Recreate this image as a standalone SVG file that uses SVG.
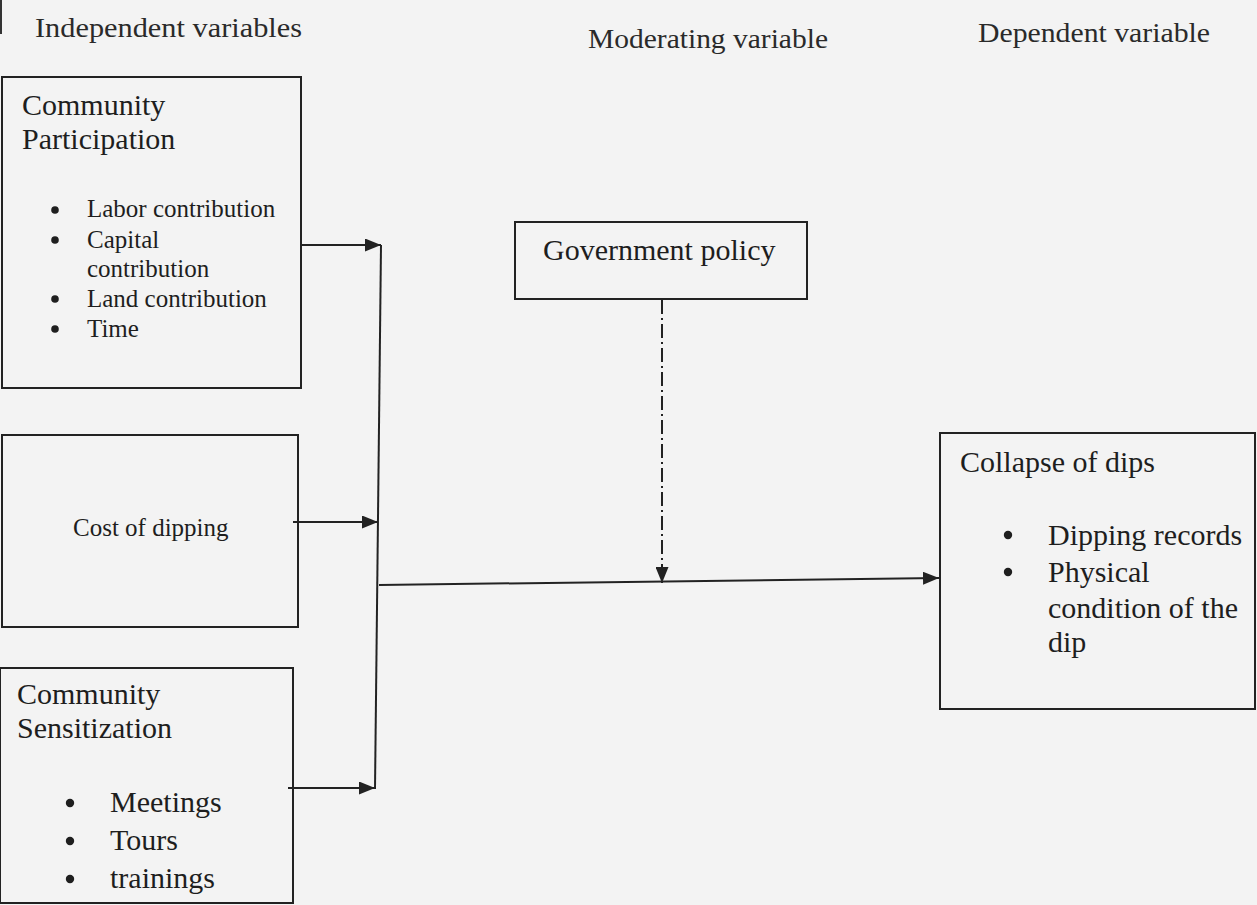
<svg xmlns="http://www.w3.org/2000/svg" width="1257" height="905" viewBox="0 0 1257 905">
<defs>
<style>
.bg{fill:#f3f3f3}
.box{fill:none;stroke:#222;stroke-width:2}
text{font-family:'Liberation Serif','DejaVu Serif',serif}
.t{fill:#1e1e1e}
.h{fill:#2a2a2a;font-size:28px}
.con{stroke:#222;stroke-width:2;fill:none}
.dash{stroke-dasharray:14 4 2 4}
.bul{fill:#1e1e1e}
</style>
<marker id="arr" markerUnits="userSpaceOnUse" markerWidth="17" markerHeight="13" refX="16" refY="6.5" orient="auto">
<path d="M0,0 L16,6.5 L0,13 z" fill="#222"/>
</marker>
</defs>
<rect class="bg" x="0" y="0" width="1257" height="905"/>
<line x1="1" y1="0" x2="1" y2="34" stroke="#333" stroke-width="2"/>

<g id="headings">
<text class="h" x="35" y="37" textLength="267" lengthAdjust="spacingAndGlyphs">Independent variables</text>
<text class="h" x="588" y="48" textLength="240" lengthAdjust="spacingAndGlyphs">Moderating variable</text>
<text class="h" x="978" y="42" textLength="232" lengthAdjust="spacingAndGlyphs">Dependent variable</text>
</g>

<g id="community-participation">
<rect class="box" x="2" y="77" width="299" height="311"/>
<text class="t" x="22" y="115" font-size="30">Community</text>
<text class="t" x="22" y="149" font-size="30">Participation</text>
<circle class="bul" cx="55" cy="210" r="3.8"/>
<text class="t" x="87" y="217" font-size="25">Labor contribution</text>
<circle class="bul" cx="55" cy="240" r="3.8"/>
<text class="t" x="87" y="248" font-size="25">Capital</text>
<text class="t" x="87" y="277" font-size="25">contribution</text>
<circle class="bul" cx="55" cy="299" r="3.8"/>
<text class="t" x="87" y="307" font-size="25">Land contribution</text>
<circle class="bul" cx="55" cy="329" r="3.8"/>
<text class="t" x="87" y="337" font-size="25">Time</text>
</g>

<g id="cost-of-dipping">
<rect class="box" x="2" y="435" width="296" height="192"/>
<text class="t" x="73" y="536" font-size="25">Cost of dipping</text>
</g>

<g id="community-sensitization">
<rect class="box" x="0" y="668" width="293" height="235"/>
<text class="t" x="17" y="704" font-size="30">Community</text>
<text class="t" x="17" y="738" font-size="30">Sensitization</text>
<circle class="bul" cx="70" cy="803" r="4.2"/>
<text class="t" x="110" y="812" font-size="30">Meetings</text>
<circle class="bul" cx="70" cy="841" r="4.2"/>
<text class="t" x="110" y="850" font-size="30">Tours</text>
<circle class="bul" cx="70" cy="879" r="4.2"/>
<text class="t" x="110" y="888" font-size="30">trainings</text>
</g>

<g id="government-policy">
<rect class="box" x="515" y="222" width="292" height="77"/>
<text class="t" x="543" y="260" font-size="30">Government policy</text>
</g>

<g id="collapse-of-dips">
<rect class="box" x="940" y="433" width="315" height="276"/>
<text class="t" x="960" y="472" font-size="30">Collapse of dips</text>
<circle class="bul" cx="1008" cy="535" r="4.2"/>
<text class="t" x="1048" y="545" font-size="30">Dipping records</text>
<circle class="bul" cx="1008" cy="572" r="4.2"/>
<text class="t" x="1048" y="582" font-size="30">Physical</text>
<text class="t" x="1048" y="618" font-size="30">condition of the</text>
<text class="t" x="1048" y="652" font-size="30">dip</text>
</g>

<g id="connectors">
<line class="con" x1="301" y1="245" x2="381" y2="245" marker-end="url(#arr)"/>
<line class="con" x1="293" y1="522" x2="378" y2="522" marker-end="url(#arr)"/>
<line class="con" x1="288" y1="788" x2="375" y2="788" marker-end="url(#arr)"/>
<line class="con" x1="381" y1="245" x2="375" y2="789"/>
<line class="con" x1="379" y1="585" x2="939" y2="578" marker-end="url(#arr)"/>
<line class="con dash" x1="662" y1="300" x2="662" y2="583" marker-end="url(#arr)"/>
</g>
</svg>
